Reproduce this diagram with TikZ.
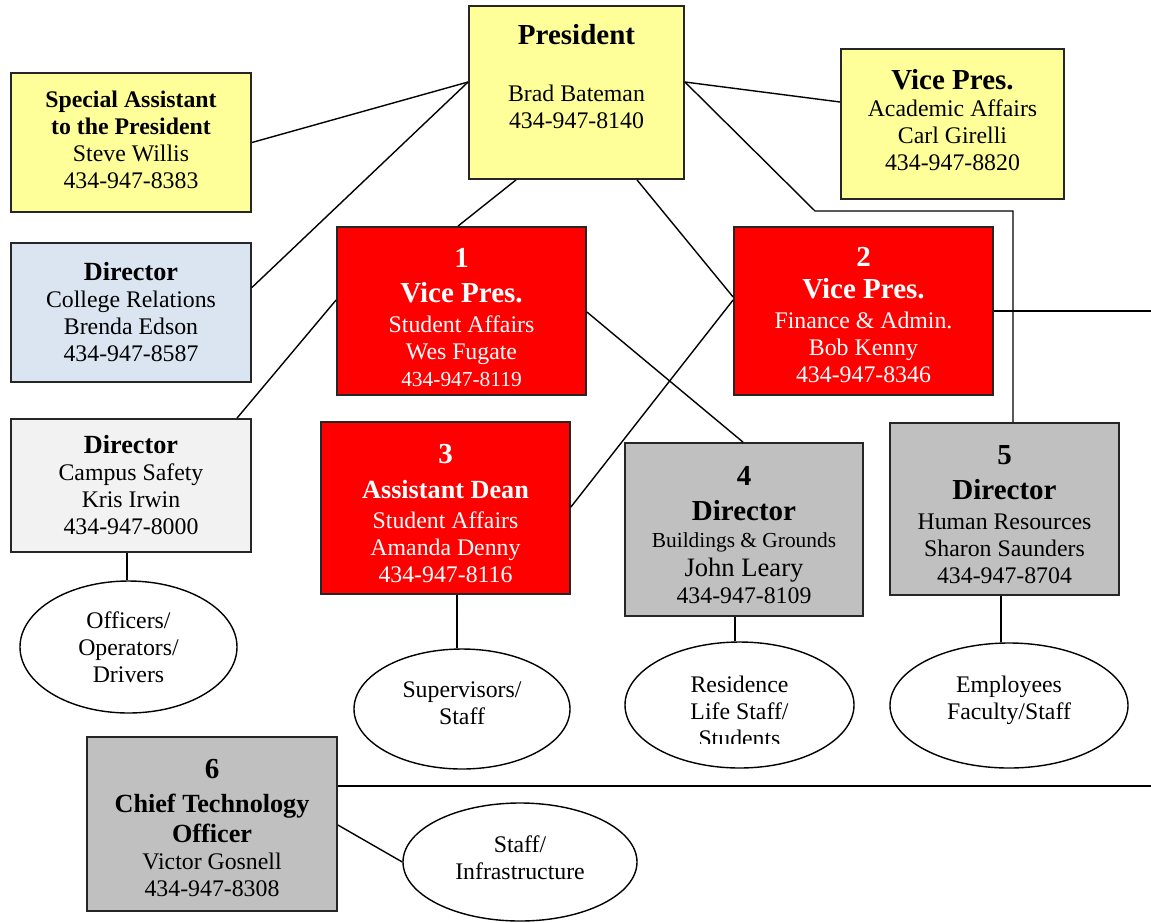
\documentclass[tikz,border=0pt]{standalone}
\usepackage{fontspec}
\setmainfont{Liberation Serif}
\usetikzlibrary{shapes.geometric}

\definecolor{paleyellow}{HTML}{FFFF99}
\definecolor{paleblue}{HTML}{DBE5F1}
\definecolor{palegray}{HTML}{F2F2F2}
\definecolor{chartred}{HTML}{FF0000}
\definecolor{midgray}{HTML}{C0C0C0}

\newcommand{\orgbody}{\fontsize{23.8}{27}\selectfont}
\newcommand{\orghead}{\fontsize{29}{27}\selectfont\bfseries}
\newcommand{\orgsub}{\fontsize{26.2}{27}\selectfont\bfseries}
\newcommand{\orgsmall}{\fontsize{21.4}{27}\selectfont}
% struts to move a text block inside its box
\newcommand{\pushdown}[1]{\rule{0pt}{#1}}
\newcommand{\pushup}[1]{\rule[-#1]{0pt}{#1}}

\begin{document}
\begin{tikzpicture}[x=1pt, y=-1pt,
    box/.style={draw=black!85, line width=1.8pt, align=center, inner sep=0pt, font=\orgbody},
    yellowbox/.style={box, fill=paleyellow},
    bluebox/.style={box, fill=paleblue},
    greybox/.style={box, fill=palegray},
    redbox/.style={box, fill=chartred, text=white},
    darkbox/.style={box, fill=midgray},
    staff/.style={draw, ellipse, line width=1.4pt, inner sep=0pt, align=center, font=\orgbody},
    wire/.style={line width=1.4pt}]
    \useasboundingbox (0,0) rectangle (1151,922);

    % Top row
    \node[yellowbox, minimum width=215pt, minimum height=173pt] (pres) at (576.5, 92.5)
        {{\orghead President}\\[30pt]Brad Bateman\\434-947-8140\pushup{32pt}};
    \node[yellowbox, minimum width=240pt, minimum height=139pt] (spa) at (131, 142.5)
        {{\bfseries Special Assistant}\\{\bfseries to the President}\\Steve Willis\\434-947-8383\pushup{6pt}};
    \node[yellowbox, minimum width=223pt, minimum height=150pt] (vpa) at (952.5, 124)
        {{\orghead Vice Pres.}\\Academic Affairs\\Carl Girelli\\434-947-8820\pushup{9pt}};

    % Left column
    \node[bluebox, minimum width=240pt, minimum height=139pt] (dcr) at (131, 312.5)
        {{\orgsub Director}\\College Relations\\Brenda Edson\\434-947-8587};
    \node[greybox, minimum width=240pt, minimum height=133pt] (dcs) at (131, 485.5)
        {{\orgsub Director}\\Campus Safety\\Kris Irwin\\434-947-8000};

    % Numbered boxes
    \node[redbox, minimum width=249pt, minimum height=168pt] (vp1) at (461.5, 311)
        {\pushdown{32pt}{\orghead 1}\\[8pt]{\orghead Vice Pres.}\\[3pt]Student Affairs\\Wes Fugate\\{\orgsmall 434-947-8119}};
    \node[redbox, minimum width=259pt, minimum height=168pt] (vp2) at (863.5, 311)
        {\pushdown{28pt}{\orghead 2}\\[5pt]{\orghead Vice Pres.}\\[3pt]Finance \& Admin.\\Bob Kenny\\434-947-8346};
    \node[redbox, minimum width=249pt, minimum height=172pt] (ad3) at (445.5, 508)
        {\pushdown{30pt}{\orghead 3}\\[8pt]{\orgsub Assistant Dean}\\[3pt]Student Affairs\\Amanda Denny\\434-947-8116};
    \node[darkbox, minimum width=238pt, minimum height=173pt] (dir4) at (744, 529.5)
        {\pushdown{31pt}{\orghead 4}\\[8pt]{\orghead Director}\\{\orgsmall Buildings \& Grounds}\\[2pt]{\fontsize{26.6}{27}\selectfont John Leary}\\434-947-8109};
    \node[darkbox, minimum width=229pt, minimum height=172pt] (dir5) at (1004.5, 509)
        {\pushdown{30pt}{\orghead 5}\\[8pt]{\orghead Director}\\[3pt]Human Resources\\Sharon Saunders\\434-947-8704};
    \node[darkbox, minimum width=250pt, minimum height=174pt] (cto) at (212, 824)
        {\pushdown{28pt}{\orghead 6}\\[7pt]{\orgsub Chief Technology}\\[3pt]{\orgsub Officer}\\Victor Gosnell\\434-947-8308};

    % Staff groups
    \node[staff, minimum width=217pt, minimum height=132pt] (off) at (128.5, 647)
        {Officers/\\Operators/\\Drivers};
    \node[staff, minimum width=216pt, minimum height=120pt] (sup) at (462, 709)
        {Supervisors/\\Staff\pushup{12pt}};
    \node[staff, minimum width=229pt, minimum height=126pt] (res) at (739.5, 705) {};
    \begin{scope}
        \clip (600, 650) rectangle (880, 743);
        \node[align=center, font=\orgbody] (restext) at (739.5, 711)
            {Residence\\Life Staff/\\Students};
    \end{scope}
    \node[staff, minimum width=238pt, minimum height=125pt] (emp) at (1009, 705.5)
        {Employees\\Faculty/Staff\pushup{15pt}};
    \node[staff, minimum width=234pt, minimum height=118pt] (inf) at (520, 862)
        {Staff/\\Infrastructure\pushup{9pt}};

    % Free ends and bends
    \coordinate (hrbend) at (815, 211);
    \coordinate (vp2out) at (1151, 311);
    \coordinate (ctoout) at (1151, 786);

    % Lines from the president
    \draw[wire] ([yshift=10.5pt]pres.west) -- (spa.east);
    \draw[wire] ([yshift=10.5pt]pres.west) -- ([yshift=25pt]dcr.east);
    \draw[wire] ([yshift=10.5pt]pres.east) -- ([yshift=22pt]vpa.west);
    \draw[wire] ([xshift=-60.5pt]pres.south) -- ([xshift=-3.5pt]vp1.north);
    \draw[wire] ([xshift=60.5pt]pres.south) -- ([yshift=14pt]vp2.west);
    \draw[wire] ([yshift=10.5pt]pres.east) -- (hrbend) -| ([xshift=8.5pt]dir5.north);

    % Lines from the vice presidents
    \draw[wire] ([yshift=11pt]vp1.west) -- ([xshift=106pt]dcs.north);
    \draw[wire] ([yshift=-1pt]vp1.east) -- ([xshift=-1pt]dir4.north);
    \draw[wire] ([yshift=11pt]vp2.west) -- ([yshift=1pt]ad3.east);
    \draw[wire] (vp2.east) -- (vp2out);
    \draw[wire] ([yshift=38pt]cto.east) -- (ctoout);

    % Boxes to staff groups
    \draw[wire] ([xshift=-4pt]dcs.south) -- ([xshift=-1.5pt]off.north);
    \draw[wire] ([xshift=11.5pt]ad3.south) -- ([xshift=-5pt]sup.north);
    \draw[wire] ([xshift=-9pt]dir4.south) -- ([xshift=-4.5pt]res.north);
    \draw[wire] ([xshift=-3.5pt]dir5.south) -- ([xshift=-8pt]emp.north);
    \draw[wire] ([yshift=-1pt]cto.east) -- (inf.west);
\end{tikzpicture}
\end{document}
